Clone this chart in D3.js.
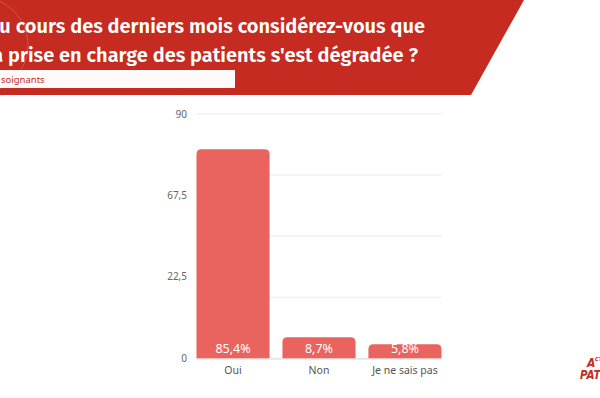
<!DOCTYPE html>
<html><head><meta charset="utf-8">
<script src="https://cdn.jsdelivr.net/npm/d3@7"></script>
<style>html,body{margin:0;padding:0;background:#fff;overflow:hidden}svg{display:block}</style>
</head><body>
<svg id="c" width="600" height="398"></svg>
<script>
const categories = ["Oui", "Non", "Je ne sais pas"];
const values = [77.0, 7.75, 5.15];
const valueLabels = ["85,4%", "8,7%", "5,8%"];
const gridValues = [0, 22.5, 45, 67.5, 90];
const tickLabels = ["90", "67,5", "22,5", "0"];
const titleLines = ["Au cours des derniers mois considérez-vous que", "la prise en charge des patients s'est dégradée ?"];
const subtitle = "soignants";

const svg = d3.select("#c");
const red = "#c52b21", barColor = "#e9635f";

// banner
svg.append("path").attr("d", "M0,0 L524,0 L471,95 L0,95 Z").attr("fill", red);
svg.append("circle").attr("cx", -20).attr("cy", 45).attr("r", 48)
  .attr("fill", "none").attr("stroke", "#fff").attr("stroke-opacity", 0.18).attr("stroke-width", 1);
const tt = svg.append("g").attr("font-family", "'Fira Sans','Noto Sans',sans-serif")
  .attr("font-weight", 600).attr("fill", "#fff").attr("font-size", 20).attr("text-anchor", "end");
tt.append("text").attr("x", 425).attr("y", 33).text(titleLines[0]);
tt.append("text").attr("x", 418).attr("y", 62).text(titleLines[1]);
svg.append("rect").attr("x", 0).attr("y", 70).attr("width", 235).attr("height", 18).attr("fill", "#fffafa");
svg.append("text").attr("x", 1).attr("y", 82.5).attr("font-family", "'Noto Sans',sans-serif")
  .attr("font-size", 9.5).attr("fill", red).text(subtitle);

// chart
const x = d3.scaleBand().domain(categories).range([196.5, 441.5]).paddingInner(0.15).paddingOuter(0);
const y = d3.scaleLinear().domain([0, 90]).range([358.3, 114]);
const yl = d3.scalePoint().domain(tickLabels).range([y(90), y(0)]);

svg.append("g").selectAll("line").data(gridValues.filter(v => v > 0)).join("line")
  .attr("x1", 196.5).attr("x2", 441.5).attr("y1", d => y(d)).attr("y2", d => y(d))
  .attr("stroke", "#ebebeb").attr("stroke-width", 1);
svg.append("line").attr("x1", 196.5).attr("x2", 441.5).attr("y1", y(0) + 0.5).attr("y2", y(0) + 0.5)
  .attr("stroke", "#e6e6e6").attr("stroke-width", 2);

svg.append("g").selectAll("text").data(tickLabels).join("text")
  .attr("x", 187).attr("y", d => yl(d)).attr("dy", "0.35em").attr("text-anchor", "end")
  .attr("font-family", "'Noto Sans',sans-serif").attr("font-size", 10).attr("fill", "#666").text(d => d);

const r = 5;
svg.append("g").selectAll("path").data(categories).join("path")
  .attr("fill", barColor)
  .attr("d", (c, i) => {
    const x0 = x(c), w = x.bandwidth(), y0 = y(values[i]), yb = y(0);
    return `M${x0},${yb} L${x0},${y0 + r} Q${x0},${y0} ${x0 + r},${y0} L${x0 + w - r},${y0} Q${x0 + w},${y0} ${x0 + w},${y0 + r} L${x0 + w},${yb} Z`;
  });

svg.append("g").selectAll("text").data(categories).join("text")
  .attr("x", c => x(c) + x.bandwidth() / 2).attr("y", y(0) - 5).attr("text-anchor", "middle")
  .attr("font-family", "'Noto Sans',sans-serif").attr("font-size", 12.5).attr("fill", "#fff")
  .text((c, i) => valueLabels[i]);

svg.append("g").selectAll("text").data(categories).join("text")
  .attr("x", c => x(c) + x.bandwidth() / 2).attr("y", 374).attr("text-anchor", "middle")
  .attr("font-family", "'Noto Sans',sans-serif").attr("font-size", 10.5).attr("fill", "#555").text(c => c);

// logo
const lg = svg.append("g").attr("font-family", "'Liberation Sans Narrow','DejaVu Sans Condensed',sans-serif")
  .attr("font-style", "italic").attr("font-weight", 700).attr("fill", red);
lg.append("text").attr("x", 587).attr("y", 367).attr("font-size", 12).text("A");
lg.append("text").attr("x", 595).attr("y", 361).attr("font-size", 5.5).text("CTION");
lg.append("text").attr("x", 580).attr("y", 379).attr("font-size", 11.5).text("PATIENTS");
</script>
</body></html>
